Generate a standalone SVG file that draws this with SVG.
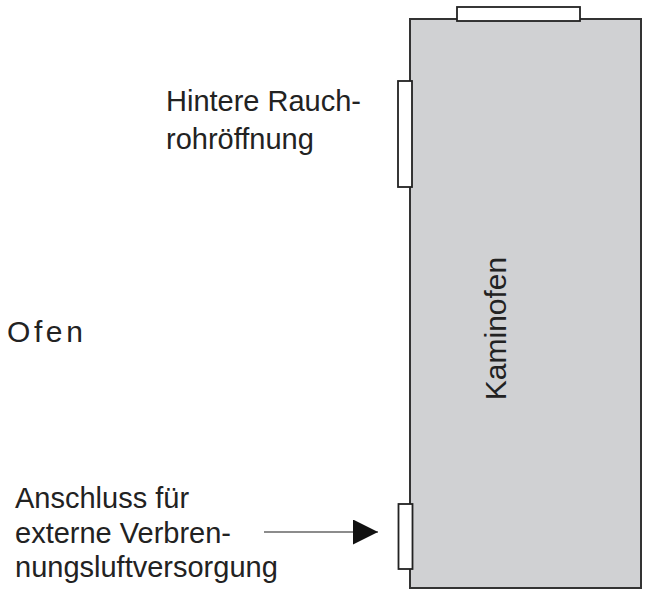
<svg xmlns="http://www.w3.org/2000/svg" width="646" height="592" viewBox="0 0 646 592">
<defs>
<style>
.t{font-family:"Liberation Sans",Arial,sans-serif;font-size:29px;fill:#222}
.body{fill:#d0d1d3;stroke:#333;stroke-width:2}
.open{fill:#fff;stroke:#222;stroke-width:1.8}
.conn{stroke:#666;stroke-width:1.6;fill:none}
</style>
<marker id="ah" markerUnits="userSpaceOnUse" markerWidth="26" markerHeight="26" refX="25" refY="12.5" orient="auto">
<path d="M0,0 L25,12.5 L0,25 Z" fill="#111"/>
</marker>
</defs>
<rect width="646" height="592" fill="#fff"/>
<g id="kaminofen">
<rect class="body" x="410" y="19" width="231" height="569"/>
<text class="t" style="font-size:30px" transform="translate(506,328.5) rotate(-90)" text-anchor="middle">Kaminofen</text>
</g>
<g id="oeffnung-oben">
<rect class="open" x="457" y="7" width="123" height="14"/>
</g>
<g id="oeffnung-hinten">
<rect class="open" x="398" y="81" width="14" height="106"/>
</g>
<g id="anschluss">
<rect class="open" x="398.5" y="504" width="14" height="65"/>
</g>
<g id="label-rauchrohr">
<text class="t" x="166" y="111">Hintere Rauch-</text>
<text class="t" x="166" y="149">rohröffnung</text>
</g>
<g id="label-ofen">
<text class="t" style="font-size:30px;letter-spacing:3.6px" x="7" y="342">Ofen</text>
</g>
<g id="label-anschluss">
<text class="t" x="15" y="508">Anschluss für</text>
<text class="t" x="15" y="543">externe Verbren-</text>
<text class="t" x="15" y="577">nungsluftversorgung</text>
</g>
<g id="connectors">
<line class="conn" x1="264" y1="532" x2="378" y2="532" marker-end="url(#ah)"/>
</g>
</svg>
